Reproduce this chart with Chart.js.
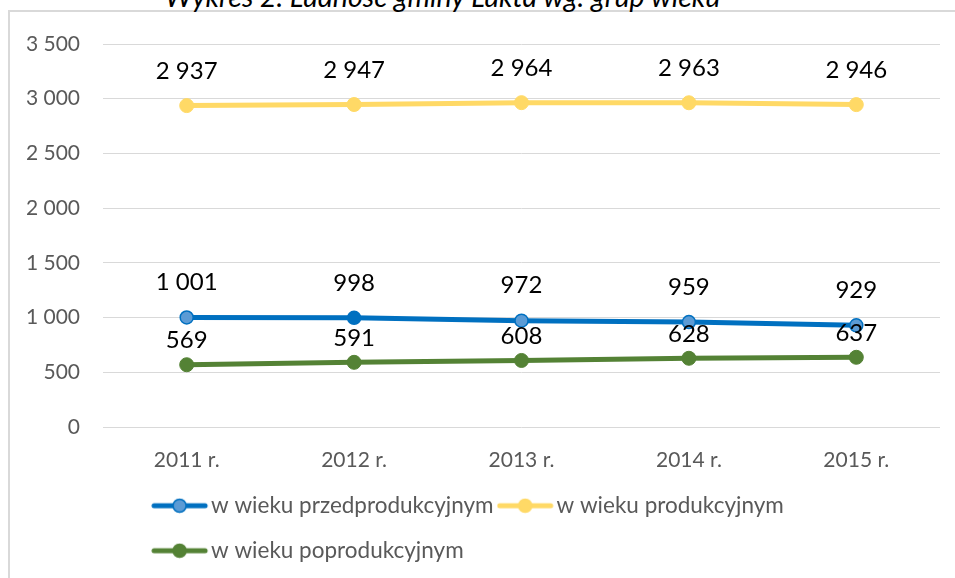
<!DOCTYPE html>
<html lang="pl">
<head>
<meta charset="utf-8">
<title>Wykres 2. Ludność gminy Łukta wg. grup wieku</title>
<script src="https://cdn.jsdelivr.net/npm/chart.js@4.4.1/dist/chart.umd.min.js"></script>
<style>
  html, body { margin: 0; padding: 0; background: #fff; overflow: hidden; }
  #frame {
    position: absolute; left: 8px; top: 10px; width: 1000px; height: 600px;
    border-top: 2px solid #d9d9d9; border-left: 2px solid #d9d9d9;
  }
  #title {
    position: absolute; left: 165px; top: -18px; white-space: nowrap;
    font: italic 28.5px Lato, sans-serif; line-height: 1; color: #000;
  }
  #wrap { position: absolute; left: 0; top: 0; width: 955px; height: 578px; }
</style>
</head>
<body>
<div id="frame"></div>
<div id="title">Wykres 2. Ludność gminy Łukta wg. grup wieku</div>
<div id="wrap"><canvas id="chart" width="955" height="578"></canvas></div>
<script>
// Dane
const lata = ["2011 r.", "2012 r.", "2013 r.", "2014 r.", "2015 r."];
const przedprodukcyjny = [1001, 998, 972, 959, 929];
const produkcyjny = [2937, 2947, 2964, 2963, 2946];
const poprodukcyjny = [569, 591, 608, 628, 637];
const nazwySerii = ["w wieku przedprodukcyjnym", "w wieku produkcyjnym", "w wieku poprodukcyjnym"];

const fmt = v => String(v).replace(/\B(?=(\d{3})+(?!\d))/g, " ");

Chart.defaults.font.family = "Lato, sans-serif";

// znacznik legendy: linia z kółkiem (prawa część przezroczysta)
function marker(line, fill, border) {
  const c = document.createElement("canvas");
  c.width = 68; c.height = 16;
  const g = c.getContext("2d");
  g.strokeStyle = line; g.lineWidth = 5; g.lineCap = "round";
  g.beginPath(); g.moveTo(3, 8); g.lineTo(54, 8); g.stroke();
  g.beginPath(); g.arc(28.5, 8, 6.5, 0, Math.PI * 2);
  g.fillStyle = fill; g.fill();
  g.lineWidth = 1.5; g.strokeStyle = border; g.stroke();
  return c;
}
const markers = [
  marker("#0070C0", "#5B9BD5", "#0070C0"),
  marker("#FFD966", "#FFD966", "#FFD966"),
  marker("#548235", "#548235", "#548235")
];

// etykiety danych nad punktami
const dataLabels = {
  id: "dataLabels",
  afterDatasetsDraw(chart) {
    const ctx = chart.ctx;
    ctx.save();
    ctx.font = "24px Lato, sans-serif";
    ctx.fillStyle = "#000";
    ctx.textAlign = "center";
    ctx.textBaseline = "middle";
    chart.data.datasets.forEach((ds, i) => {
      chart.getDatasetMeta(i).data.forEach((pt, j) => {
        ctx.fillText(fmt(ds.data[j]), pt.x, pt.y - ds.labelOffset);
      });
    });
    ctx.restore();
  }
};

// przesunięcie legendy
const legendShift = {
  id: "legendShift",
  afterLayout(chart) {
    const lg = chart.legend;
    const dx = 148 - lg.left, dy = 472 - lg.top;
    lg.left += dx; lg.right += dx; lg.top += dy; lg.bottom += dy;
  }
};

new Chart(document.getElementById("chart"), {
  type: "line",
  data: {
    labels: lata,
    datasets: [{
      label: nazwySerii[0],
      data: przedprodukcyjny,
      borderColor: "#0070C0",
      backgroundColor: "#0070C0",
      pointBackgroundColor: ["#5B9BD5", "#0070C0", "#5B9BD5", "#5B9BD5", "#5B9BD5"],
      pointBorderColor: "#0070C0",
      pointBorderWidth: 1.5,
      pointRadius: 6.5,
      labelOffset: 35
    }, {
      label: nazwySerii[1],
      data: produkcyjny,
      borderColor: "#FFD966",
      backgroundColor: "#FFD966",
      pointBackgroundColor: "#FFD966",
      pointBorderColor: "#FFD966",
      pointBorderWidth: 1,
      pointRadius: 7,
      labelOffset: 34
    }, {
      label: nazwySerii[2],
      data: poprodukcyjny,
      borderColor: "#548235",
      backgroundColor: "#548235",
      pointBackgroundColor: "#548235",
      pointBorderColor: "#548235",
      pointBorderWidth: 1,
      pointRadius: 7,
      labelOffset: 24
    }]
  },
  options: {
    responsive: false,
    animation: false,
    elements: {
      line: { borderWidth: 5, tension: 0, borderCapStyle: "round", fill: false }
    },
    layout: { padding: { top: 44, right: 15, bottom: 0, left: 0 } },
    plugins: {
      title: { display: false },
      tooltip: { enabled: false },
      legend: {
        position: "bottom",
        align: "start",
        labels: {
          usePointStyle: true,
          pointStyleWidth: 29.25,
          padding: 22.5,
          color: "#595959",
          font: { size: 22.5 },
          generateLabels(chart) {
            return Chart.defaults.plugins.legend.labels.generateLabels(chart)
              .map((l, i) => ({ ...l, pointStyle: markers[i] }));
          }
        }
      }
    },
    scales: {
      x: {
        offset: true,
        grid: { display: false, drawTicks: false },
        border: { display: false },
        ticks: { color: "#595959", font: { size: 21 }, padding: 21 },
        afterFit(s) { s.height = 51; }
      },
      y: {
        min: 0,
        max: 3500,
        grid: { color: "#d9d9d9", lineWidth: 1, drawTicks: false },
        border: { display: false },
        ticks: { stepSize: 500, color: "#595959", font: { size: 21 }, padding: 23, callback: v => fmt(v) },
        afterFit(s) { s.width = 103; }
      }
    }
  },
  plugins: [dataLabels, legendShift]
});
</script>
</body>
</html>
